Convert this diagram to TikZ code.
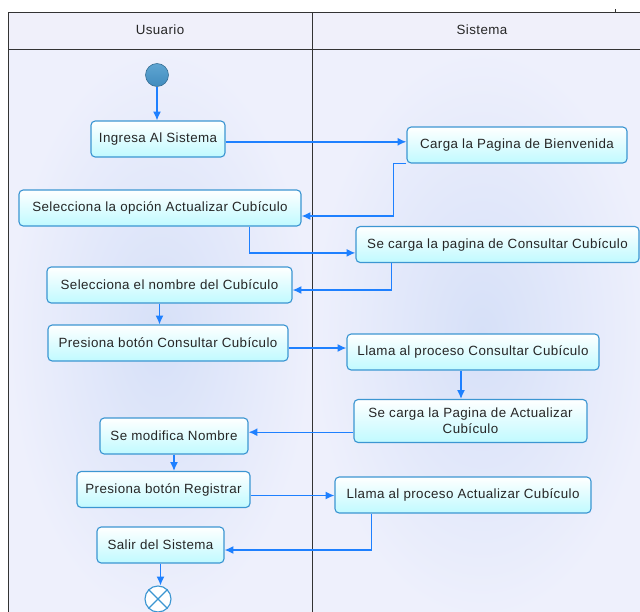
\documentclass[tikz,border=0pt]{standalone}
\usepackage{fontspec}
\setmainfont[LetterSpace=3]{Liberation Sans}
\usetikzlibrary{arrows.meta,positioning}

\definecolor{flujoazul}{RGB}{30,128,255}
\definecolor{bordeazul}{RGB}{60,150,210}
\definecolor{cianfondo}{RGB}{192,250,255}
\definecolor{carril}{RGB}{238,240,252}
\definecolor{carrilcentro}{RGB}{214,224,248}
\definecolor{cabecera}{RGB}{240,240,250}
\definecolor{bolaazul}{RGB}{65,140,190}
\definecolor{bolaclara}{RGB}{95,165,210}

\begin{document}
\begin{tikzpicture}[
  x=0.025cm, y=-0.025cm,
  font=\fontsize{9.5}{11.5}\selectfont,
  >={Latex[length=2.2mm,width=2mm]},
  actividad/.style={draw=bordeazul, line width=0.8pt, rounded corners=3pt, top color=white, bottom color=cianfondo, text=black!85, align=center, minimum height=0.9cm, inner sep=2pt},
  flujo/.style={->, flujoazul, line width=1pt},
  carrilfondo/.style={inner color=carrilcentro, outer color=carril},
  marco/.style={draw=black!80, line width=0.6pt}
]
\useasboundingbox (0,0) rectangle (640,612);
\clip (0,0) rectangle (640,612);

% carriles
\fill[cabecera] (8,12) rectangle (652,49);
\shade[carrilfondo] (8,49) rectangle (312,620);
\shade[carrilfondo] (312,49) rectangle (652,620);
\draw[marco] (8,620) -- (8,12) -- (652,12);
\draw[marco] (8,49) -- (652,49);
\draw[marco] (312,12) -- (312,620);
\draw[black!80] (615,9) -- (615,13);
\node[text=black!85] (usuario) at (160,30) {Usuario};
\node[text=black!85] (sistema) at (482,30) {Sistema};

% nodos
\node[circle, draw=bolaazul!75!black, top color=bolaclara, bottom color=bolaazul, minimum size=0.575cm, inner sep=0pt] (inicio) at (157,75) {};
\node[actividad, minimum width=3.35cm] (ing) at (158,139) {Ingresa Al Sistema};
\node[actividad, minimum width=5.5cm] (car) at (517,145) {Carga la Pagina de Bienvenida};
\node[actividad, minimum width=7.05cm] (sel) at (160,208) {Selecciona la opción Actualizar Cubículo};
\node[actividad, minimum width=7.075cm] (scc) at (497.5,244.5) {Se carga la pagina de Consultar Cubículo};
\node[actividad, minimum width=6.125cm] (nom) at (169.5,285) {Selecciona el nombre del Cubículo};
\node[actividad, minimum width=6.0cm] (pcc) at (168,343) {Presiona botón Consultar Cubículo};
\node[actividad, minimum width=6.3cm] (lcc) at (473,352) {Llama al proceso Consultar Cubículo};
\node[actividad, minimum width=5.825cm, minimum height=1.075cm] (sca) at (470.5,421) {Se carga la Pagina de Actualizar\\Cubículo};
\node[actividad, minimum width=3.7cm] (mod) at (174,436) {Se modifica Nombre};
\node[actividad, minimum width=4.325cm] (reg) at (163.5,489.5) {Presiona botón Registrar};
\node[actividad, minimum width=6.4cm] (lac) at (463,495) {Llama al proceso Actualizar Cubículo};
\node[actividad, minimum width=3.175cm] (sal) at (160.5,545) {Salir del Sistema};
\node[circle, draw=bordeazul, line width=0.8pt, fill=white, minimum size=0.65cm, inner sep=0pt] (fin) at (158,599) {};
\draw[bordeazul, line width=0.8pt] (fin.45) -- (fin.225) (fin.135) -- (fin.315);

% flujos
\draw[flujo] (inicio.south) -- (inicio.south |- ing.north);
\draw[flujo] ([yshift=-0.07cm]ing.east) -- ([yshift=-0.07cm]ing.east -| car.west);
\draw[flujo] (car.south west) -- ++(-13,0) |- ([yshift=-0.2cm]sel.east);
\draw[flujo] ([xshift=-1.3cm]sel.south east) |- ([yshift=-0.21cm]scc.west);
\draw[flujo] ([xshift=0.9cm]scc.south west) |- ([yshift=-0.125cm]nom.east);
\draw[flujo] ([xshift=-0.25cm]nom.south) -- ([xshift=-0.25cm]nom.south |- pcc.north);
\draw[flujo] ([yshift=-0.125cm]pcc.east) -- ([yshift=-0.125cm]pcc.east -| lcc.west);
\draw[flujo] ([xshift=-0.3cm]lcc.south) -- ([xshift=-0.3cm]lcc.south |- sca.north);
\draw[flujo] ([yshift=-0.28cm]sca.west) -- ([yshift=-0.28cm]sca.west -| mod.east);
\draw[flujo] (mod.south) -- (mod.south |- reg.north);
\draw[flujo] ([yshift=-0.15cm]reg.east) -- ([yshift=-0.15cm]reg.east -| lac.west);
\draw[flujo] ([xshift=0.925cm]lac.south west) |- ([yshift=-0.125cm]sal.east);
\draw[flujo] (sal.south) -- (sal.south |- fin.north);
\end{tikzpicture}
\end{document}
